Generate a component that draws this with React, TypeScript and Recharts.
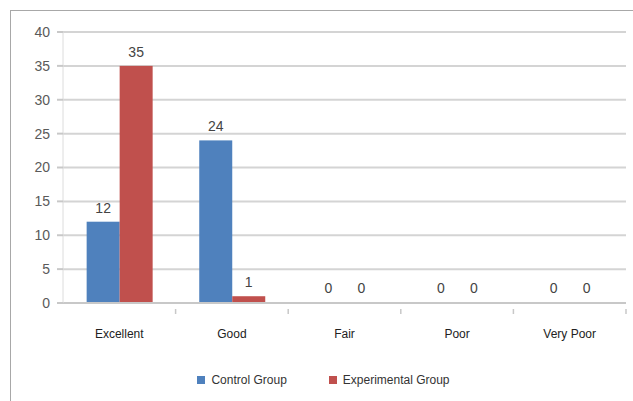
import React from "react";
import {
  BarChart,
  Bar,
  XAxis,
  YAxis,
  CartesianGrid,
  Legend,
  LabelList,
} from "recharts";

const categories = ["Excellent", "Good", "Fair", "Poor", "Very Poor"];
const controlGroup = [12, 24, 0, 0, 0];
const experimentalGroup = [35, 1, 0, 0, 0];
const yTicks = [0, 5, 10, 15, 20, 25, 30, 35, 40];

const data = categories.map((name, i) => ({
  name,
  control: controlGroup[i],
  experimental: experimentalGroup[i],
}));

const CHART_W = 633;
const CHART_H = 401;
// legend height gets added to the bottom offset, so the bottom margin is trimmed to suit
const MARGIN = { top: 32, right: 7, bottom: 58, left: 0 };
const Y_WIDTH = 63;
const BAND = (CHART_W - MARGIN.left - MARGIN.right - Y_WIDTH) / categories.length;

// category label at the centre, small tick mark at the right edge of the band
const CategoryTick = (props: any) => {
  const { x, y, payload } = props;
  return (
    <g>
      <line x1={x + BAND / 2} y1={y - 2} x2={x + BAND / 2} y2={y + 3} stroke="#c8c8c8" strokeWidth={1.5} />
      <text
        x={x}
        y={y + 27}
        textAnchor="middle"
        fontSize={12}
        fill="#222"
        fontFamily="Liberation Sans, Arial, sans-serif"
      >
        {payload.value}
      </text>
    </g>
  );
};

// zero values keep a 1px slot (minPointSize) so their label still shows, but no bar is painted
const FlatBar = (props: any) => {
  const { x, y, width, height, fill, value } = props;
  const v = Array.isArray(value) ? value[1] - value[0] : value;
  if (!v) return null;
  return <rect x={x} y={y} width={width} height={height} fill={fill} />;
};

const legendText = (value: string) => (
  <span style={{ color: "#333", fontSize: 12, marginRight: 32, marginLeft: 2 }}>{value}</span>
);

const App = () => {
  return (
    <div
      style={{
        position: "fixed",
        top: 0,
        left: 0,
        width: CHART_W,
        height: CHART_H,
        background: "#fff",
        fontFamily: "Liberation Sans, Arial, sans-serif",
      }}
    >
      <div
        style={{
          position: "absolute",
          left: 10,
          top: 10,
          right: 0,
          bottom: 0,
          borderLeft: "1.5px solid #a8a8a8",
          borderTop: "1.5px solid #a8a8a8",
        }}
      />
      <BarChart
        width={CHART_W}
        height={CHART_H}
        data={data}
        margin={MARGIN}
        barCategoryGap="21%"
        barGap={0}
      >
        <CartesianGrid vertical={false} stroke="#d4d4d4" strokeWidth={2} />
        <XAxis
          dataKey="name"
          tick={<CategoryTick />}
          tickLine={false}
          axisLine={{ stroke: "#c8c8c8", strokeWidth: 2 }}
          height={40}
          interval={0}
        />
        <YAxis
          width={Y_WIDTH}
          domain={[0, 40]}
          ticks={yTicks}
          tickSize={6}
          tickMargin={7}
          tickLine={{ stroke: "#c8c8c8", strokeWidth: 2 }}
          axisLine={{ stroke: "#dcdcdc", strokeWidth: 1 }}
          tick={{ fontSize: 14, fill: "#5a5a5a" }}
        />
        <Legend
          iconType="square"
          iconSize={8}
          formatter={legendText}
          wrapperStyle={{ top: 370, left: 28, width: 633, height: 0 }}
        />
        <Bar
          dataKey="control"
          name="Control Group"
          fill="#4f81bd"
          minPointSize={1}
          shape={<FlatBar />}
          isAnimationActive={false}
        >
          <LabelList dataKey="control" position="top" offset={9} fill="#444" fontSize={14} />
        </Bar>
        <Bar
          dataKey="experimental"
          name="Experimental Group"
          fill="#c0504d"
          minPointSize={1}
          shape={<FlatBar />}
          isAnimationActive={false}
        >
          <LabelList dataKey="experimental" position="top" offset={9} fill="#444" fontSize={14} />
        </Bar>
      </BarChart>
    </div>
  );
};

export default App;
